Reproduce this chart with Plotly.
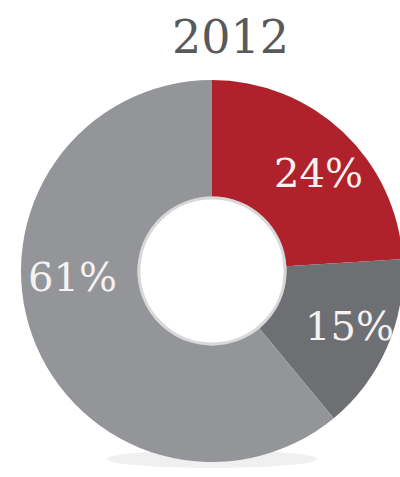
import plotly.graph_objects as go

# Share of the total in 2012
year = "2012"
segments = ["A", "B", "C"]
shares = [24, 15, 61]
colors = ["#B0222B", "#6E6F72", "#939598"]

# Label anchor points, in pixels from the top-left corner
label_px = [(318, 173), (349, 326), (72, 277)]

W, H = 424, 477
cx, top, bottom = 212, 80, 462
hole = 0.39
r_out = (bottom - top) / 2
cy = (top + bottom) / 2
r_in = r_out * hole

fig = go.Figure(
    go.Pie(
        labels=segments,
        values=shares,
        hole=hole,
        sort=False,
        direction="clockwise",
        rotation=0,
        marker=dict(colors=colors, line=dict(width=0)),
        textinfo="none",
        hoverinfo="label+percent",
        showlegend=False,
        domain=dict(x=[0, 1], y=[(H - bottom) / H, (H - top) / H]),
    )
)

for val, (px, py) in zip(shares, label_px):
    fig.add_annotation(
        x=px / W, y=1 - py / H, xref="paper", yref="paper",
        text=f"{val}%", showarrow=False,
        font=dict(family="DejaVu Serif", size=40, color="#F6F2F2"),
        xanchor="center", yanchor="middle",
    )

fig.add_annotation(
    x=231 / W, y=1 - 37 / H, xref="paper", yref="paper",
    text=year, showarrow=False,
    font=dict(family="DejaVu Serif", size=46, color="#58595B"),
    xanchor="center", yanchor="middle",
)

# soft ground shadow beneath the ring and a faint inner rim around the hole
fig.add_shape(
    type="circle", xref="paper", yref="paper", layer="below",
    x0=(cx - 105) / W, x1=(cx + 105) / W,
    y0=1 - (bottom + 6) / H, y1=1 - (bottom - 12) / H,
    fillcolor="rgba(0,0,0,0.06)", line=dict(width=0),
)
fig.add_shape(
    type="circle", xref="paper", yref="paper", layer="above",
    x0=(cx - r_in + 1.5) / W, x1=(cx + r_in - 1.5) / W,
    y0=1 - (cy + r_in - 1.5) / H, y1=1 - (cy - r_in + 1.5) / H,
    fillcolor="rgba(0,0,0,0)", line=dict(width=3, color="rgba(190,190,192,0.6)"),
)

fig.update_layout(
    width=W, height=H,
    margin=dict(l=0, r=0, t=0, b=0),
    paper_bgcolor="white",
    plot_bgcolor="white",
)

fig.write_html("out.html")
